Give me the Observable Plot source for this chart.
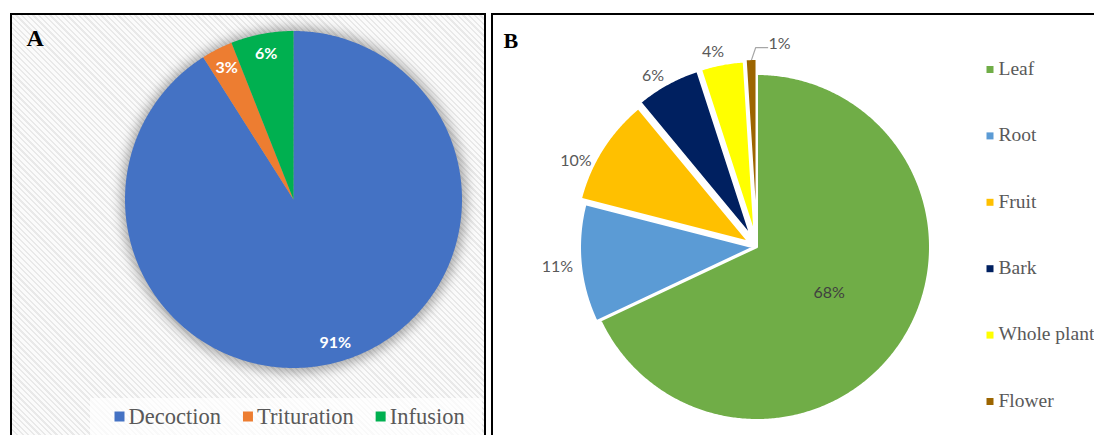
<!DOCTYPE html>
<html>
<head>
<meta charset="utf-8">
<script src="https://cdn.jsdelivr.net/npm/d3@7"></script>
<script src="https://cdn.jsdelivr.net/npm/@observablehq/plot@0.6"></script>
<style>
  html, body { margin: 0; padding: 0; background: #fff; width: 1094px; height: 435px; overflow: hidden; }
  .panel { position: absolute; box-sizing: border-box; border: 2px solid #000; }
  #panelA {
    left: 10px; top: 13px; width: 476px; height: 440px;
    background: repeating-linear-gradient(45deg, #fbfbfb 0px, #fbfbfb 2.4px, #e9e9e9 2.4px, #e9e9e9 4px);
  }
  #legendBoxA { position: absolute; left: 78px; top: 383px; width: 392px; height: 60px; background: rgba(255,255,255,0.72); }
  #panelB { left: 491px; top: 13px; width: 700px; height: 440px; background: #fff; }
  #chart { position: absolute; left: 0; top: 0; }
</style>
</head>
<body>
<div id="panelA" class="panel"><div id="legendBoxA"></div></div>
<div id="panelB" class="panel"></div>
<div id="chart"></div>
<script>
// A: preparation methods
const methods = ["Decoction", "Trituration", "Infusion"];
const methodShares = [91, 3, 6];
// B: plant parts used
const parts = ["Leaf", "Root", "Fruit", "Bark", "Whole plant", "Flower"];
const partShares = [68, 11, 10, 6, 4, 1];

// palettes
const methodColors = ["#4472C4", "#ED7D31", "#00B050"];
const partColors = ["#70AD47", "#5B9BD5", "#FFC000", "#002060", "#FFFF00", "#9C6500"];

const W = 1094, H = 435;
const pieA = {cx: 293.5, cy: 199.5, r: 168.5};
const pieB = {cx: 757, cy: 247, r: 173};
// radial offset of each exploded slice in B (px)
const explodeB = {"Leaf": 0, "Root": 4, "Fruit": 10, "Bark": 13, "Whole plant": 13, "Flower": 15};
// angular nudge (deg) for crowded outside labels in B
const nudgeB = {"Leaf": 0, "Root": 0, "Fruit": -7, "Bark": -2.5, "Whole plant": -2, "Flower": 8};

const arcsOf = (cats, vals) =>
  d3.pie().sort(null).value(d => d.value)(cats.map((c, i) => ({cat: c, value: vals[i]})));

const arcsA = arcsOf(methods, methodShares);
const arcsB = arcsOf(parts, partShares);

const polar = (pie, off, ang, rad) => ({
  x: pie.cx + off * Math.sin(ang.mid) + rad * Math.sin(ang.t),
  y: pie.cy - off * Math.cos(ang.mid) - rad * Math.cos(ang.t)
});

// wedge outlines as areas between the outer arc and the slice apex
function wedgeRows(arcs, pie, explode) {
  const rows = [];
  for (const a of arcs) {
    const mid = (a.startAngle + a.endAngle) / 2;
    const off = explode(a.data.cat);
    const apex = polar(pie, off, {mid, t: 0}, 0);
    const n = Math.max(2, Math.ceil((a.endAngle - a.startAngle) / (Math.PI / 360)));
    for (let k = 0; k <= n; k++) {
      const t = a.startAngle + (a.endAngle - a.startAngle) * k / n;
      const p = polar(pie, off, {mid, t}, pie.r);
      rows.push({cat: a.data.cat, x1: p.x, y1: p.y, x2: apex.x, y2: apex.y});
    }
  }
  return rows;
}

const wedgesA = wedgeRows(arcsA, pieA, () => 0);
const wedgesB = wedgeRows(arcsB, pieB, c => explodeB[c]);

// inside labels for A
const labelsA = arcsA.map(a => {
  const mid = (a.startAngle + a.endAngle) / 2;
  const p = polar(pieA, 0, {mid, t: mid}, pieA.r * 0.88);
  return {...p, text: a.data.value + "%"};
});

// labels for B: Leaf inside, others outside the rim
const labelsB = arcsB.map((a, i) => {
  const mid = (a.startAngle + a.endAngle) / 2;
  const cat = a.data.cat;
  const t = mid + nudgeB[cat] * Math.PI / 180;
  const rad = i === 0 ? pieB.r * 0.49 : pieB.r + (cat === "Flower" ? 32 : 28);
  const p = polar(pieB, 0, {mid: t, t}, rad);
  return {...p, cat, text: a.data.value + "%", inside: i === 0};
});

// leader line for the Flower label
const flowerArc = arcsB[arcsB.length - 1];
const flowerMid = (flowerArc.startAngle + flowerArc.endAngle) / 2;
const flowerTip = polar(pieB, explodeB["Flower"], {mid: flowerMid, t: flowerMid}, pieB.r);
const flowerLabel = labelsB[labelsB.length - 1];
const leader = [
  flowerTip,
  {x: flowerLabel.x - 24, y: flowerLabel.y + 4},
  {x: flowerLabel.x - 12, y: flowerLabel.y + 4}
];

// legend layout for A (horizontal, text widths measured)
const legendFontA = 22.5;
const ctx = document.createElement("canvas").getContext("2d");
ctx.font = legendFontA + "px 'Liberation Serif'";
let lx = 119;
const legendA = methods.map(m => {
  const item = {cat: m, sx: lx, tx: lx + 9};
  lx = item.tx + ctx.measureText(m).width + 27;
  return item;
});
const legendB = parts.map((p, i) => ({cat: p, y: 74.3 + i * 66.4}));

const serif = "'Liberation Serif', 'Times New Roman', serif";
const sans = "Lato, 'Open Sans', sans-serif";

const chart = Plot.plot({
  width: W,
  height: H,
  margin: 0,
  style: {background: "transparent", overflow: "visible"},
  x: {type: "linear", domain: [0, W], range: [0, W], axis: null},
  y: {type: "linear", domain: [0, H], range: [0, H], axis: null},
  color: {domain: [...methods, ...parts], range: [...methodColors, ...partColors]},
  marks: [
    // soft shadow under pie A
    Plot.dot([pieA], {x: "cx", y: "cy", r: pieA.r + 4, fill: "#000", fillOpacity: 0.33, imageFilter: "blur(6px)"}),
    Plot.area(wedgesA, {x1: "x1", y1: "y1", x2: "x2", y2: "y2", z: "cat", fill: "cat", curve: "linear"}),
    Plot.text(labelsA, {x: "x", y: "y", text: "text", fill: "white", fontWeight: "bold", fontSize: 16, fontFamily: sans, lineAnchor: "middle"}),
    // legend A
    Plot.dot(legendA, {x: "sx", y: 416, symbol: "square", r: 10 / Math.sqrt(Math.PI), fill: "cat"}),
    Plot.text(legendA, {x: "tx", y: 423.5, text: "cat", textAnchor: "start", lineAnchor: "bottom", fontSize: legendFontA, fontFamily: serif, fill: "#595959"}),
    Plot.text(["A"], {x: 26, y: 45, text: d => d, textAnchor: "start", lineAnchor: "bottom", fontSize: 24, fontWeight: "bold", fontFamily: serif, fill: "#000"}),

    // pie B
    Plot.area(wedgesB, {x1: "x1", y1: "y1", x2: "x2", y2: "y2", z: "cat", fill: "cat", stroke: "white", strokeWidth: 2, curve: "linear"}),
    Plot.line(leader, {x: "x", y: "y", stroke: "#a6a6a6", strokeWidth: 1.2}),
    Plot.text(labelsB, {x: "x", y: "y", text: "text", fill: d => d.inside ? "#404040" : "#595959", fontSize: 16, fontFamily: sans, lineAnchor: "middle"}),
    // legend B
    Plot.dot(legendB, {x: 989.5, y: d => d.y - 5.3, symbol: "square", r: 7 / Math.sqrt(Math.PI), fill: "cat"}),
    Plot.text(legendB, {x: 998, y: "y", text: "cat", textAnchor: "start", lineAnchor: "bottom", fontSize: 19.5, fontFamily: serif, fill: "#595959"}),
    Plot.text(["B"], {x: 503, y: 47, text: d => d, textAnchor: "start", lineAnchor: "bottom", fontSize: 22, fontWeight: "bold", fontFamily: serif, fill: "#000"})
  ]
});

document.getElementById("chart").appendChild(chart);
</script>
</body>
</html>
